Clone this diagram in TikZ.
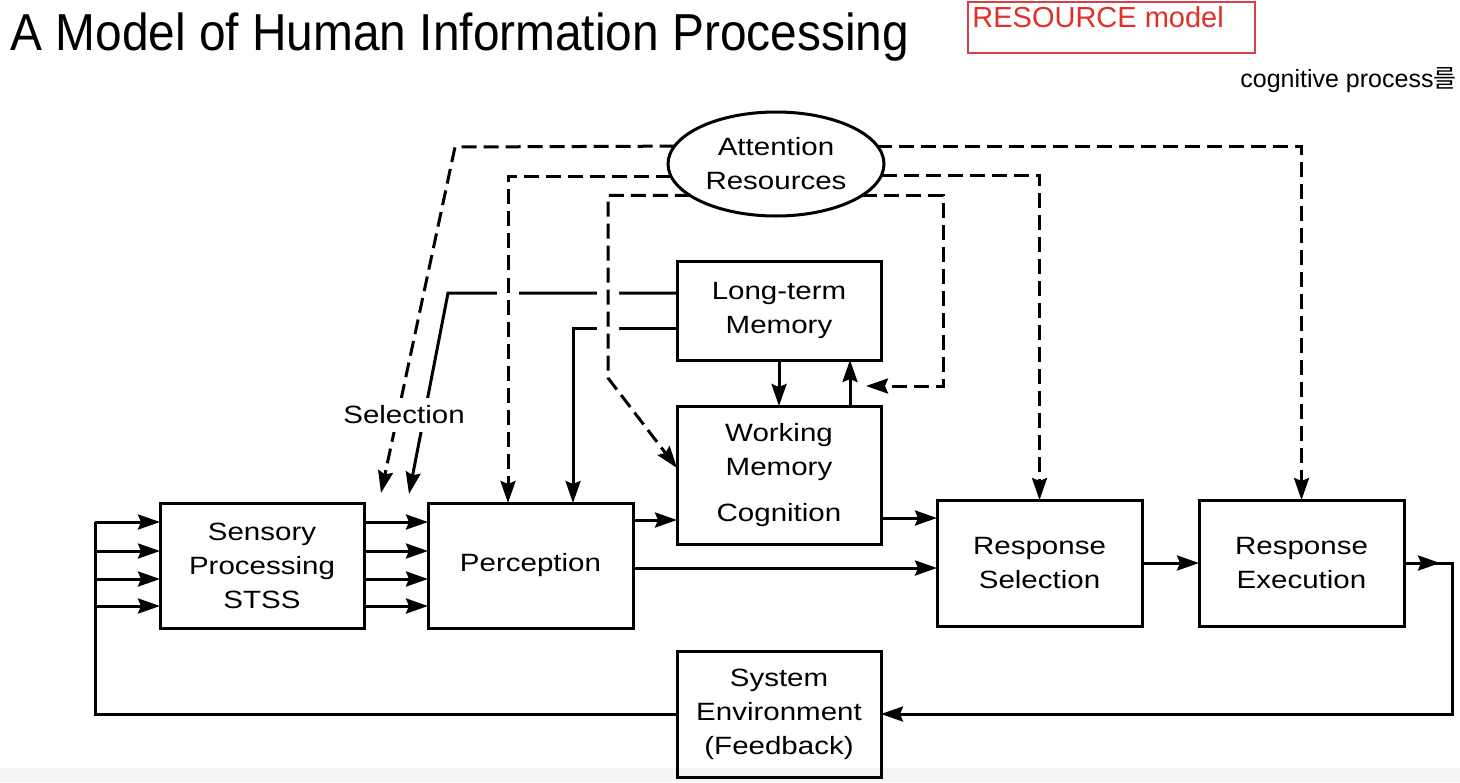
\documentclass[tikz,border=0pt]{standalone}
\usepackage{fontspec}
\setmainfont{Liberation Sans}
\newfontfamily\diagfont[FakeStretch=1.18]{Liberation Sans}
\newfontfamily\titlefont[FakeStretch=0.92]{Liberation Sans}
\newfontfamily\krfont{Noto Sans CJK KR}
\usepackage{tikz}
\usetikzlibrary{arrows.meta,calc,positioning,shapes.geometric}
\definecolor{resred}{RGB}{226,48,40}
\definecolor{resframe}{RGB}{214,64,72}
\pgfdeclarelayer{front}
\pgfsetlayers{main,front}

\begin{document}
\begin{tikzpicture}[x=0.5pt,y=-0.5pt,
  box/.style={draw,line width=1.5pt,inner sep=0pt,outer sep=0pt,align=center,minimum width=102pt,font=\diagfont\fontsize{12.5}{17}\selectfont},
  flow/.style={line width=1.5pt,-{Stealth[length=11pt,width=7.5pt,inset=1.5pt]}},
  plain/.style={line width=1.5pt},
  attn/.style={flow,dash pattern=on 7.5pt off 3.5pt},
  gap/.style={preaction={draw=white,line width=11pt,solid,-}}]
\useasboundingbox (0,0) rectangle (1460,782);
\fill[gray!8] (0,768) rectangle (1460,782);

% heading
\node[anchor=base west,inner sep=0pt,font=\titlefont\fontsize{26}{30}\selectfont] (title) at (10,50) {A Model of Human Information Processing};
\node[draw=resframe,line width=1pt,anchor=north west,minimum width=143.5pt,minimum height=25.5pt,inner sep=0pt] (resbox) at (967,1) {};
\node[anchor=base west,inner sep=0pt,text=resred,font=\fontsize{14.5}{17}\selectfont] (restxt) at (972,27) {RESOURCE model};
\node[anchor=base west,inner sep=0pt,font=\fontsize{12.5}{15}\selectfont] (note) at (1240,87) {cognitive process{\krfont 를 보}};

% stages
\begin{pgfonlayer}{front}
\node[box,ellipse,minimum width=108pt,minimum height=52pt] (att) at (776,164) {Attention\\Resources};
\node[box,minimum height=49.5pt] (ltm) at (779,310.5) {Long-term\\Memory};
\node[box,minimum height=69pt] (wm) at (779,475) {Working\\Memory\\[6pt]Cognition};
\node[box,minimum height=62.5pt] (sens) at (262,565.5) {Sensory\\Processing\\STSS};
\node[box,minimum width=102.5pt,minimum height=62.5pt] (perc) at (530.5,565.5) {Perception};
\node[box,minimum width=102.5pt,minimum height=63pt] (rsel) at (1039.5,563) {Response\\Selection};
\node[box,minimum width=102.5pt,minimum height=63pt] (rexec) at (1301.5,563) {Response\\Execution};
\node[box,minimum height=63pt] (env) at (779,714) {System\\Environment\\(Feedback)};
\end{pgfonlayer}

% inputs and feedback loop
\foreach \yy [count=\i] in {522,551,579,606} {
  \coordinate (in\i) at (95,\yy);
  \draw[flow] (in\i) -- (in\i -| sens.west);
  \draw[flow] (in\i -| sens.east) -- (in\i -| perc.west);
}
\coordinate (fbl) at (95,714);
\coordinate (fbr) at (1452,714);
\draw[plain] (env.west) -- (fbl) -- (in1);
\draw[flow] (rexec.east) -- ++(18pt,0);
\draw[flow] (rexec.east) -| (fbr) -- (env.east);

% main flow
\draw[flow] ([yshift=22.75pt]perc.east) -- ([yshift=22.75pt]perc.east -| wm.west);
\draw[flow] ([yshift=-1.25pt]perc.east) -- ([yshift=-1.25pt]perc.east -| rsel.west);
\draw[flow] ([yshift=-21.5pt]wm.east) -- ([yshift=-21.5pt]wm.east -| rsel.west);
\draw[flow] (rsel.east) -- (rexec.west);

% memory
\draw[flow] (ltm.south) -- (wm.north);
\draw[flow] ([xshift=35.5pt]wm.north) -- ([xshift=35.5pt]ltm.south);
\coordinate (lt1) at (448,293);
\coordinate (sel2) at (409,494);
\draw[flow] ([yshift=8.75pt]ltm.west) -- (lt1) -- (sel2);
\draw[flow] ([yshift=-8.75pt]ltm.west) -| ([xshift=21.25pt]perc.north);

% attention
\coordinate (a1) at (455,147);
\coordinate (sel1) at (381,493);
\coordinate (a3) at (608,378);
\coordinate (a4) at (943,386);
\coordinate (a4e) at (866,386);
\draw[attn] (att.170.5) -- (a1) -- (sel1);
\draw[attn,gap] (att.187) -| ([xshift=-11.25pt]perc.north);
\draw[attn,gap] (att.200) -| (a3) -- ([yshift=3.5pt]wm.west);
\draw[attn] (att.340) -| (a4) -- (a4e);
\draw[attn] (att.354) -| (rsel.north);
\draw[attn] (att.10.5) -| (rexec.north);

\node[fill=white,inner sep=4pt,font=\diagfont\fontsize{12.5}{15}\selectfont] (sel) at (404,415) {Selection};
\end{tikzpicture}
\end{document}
